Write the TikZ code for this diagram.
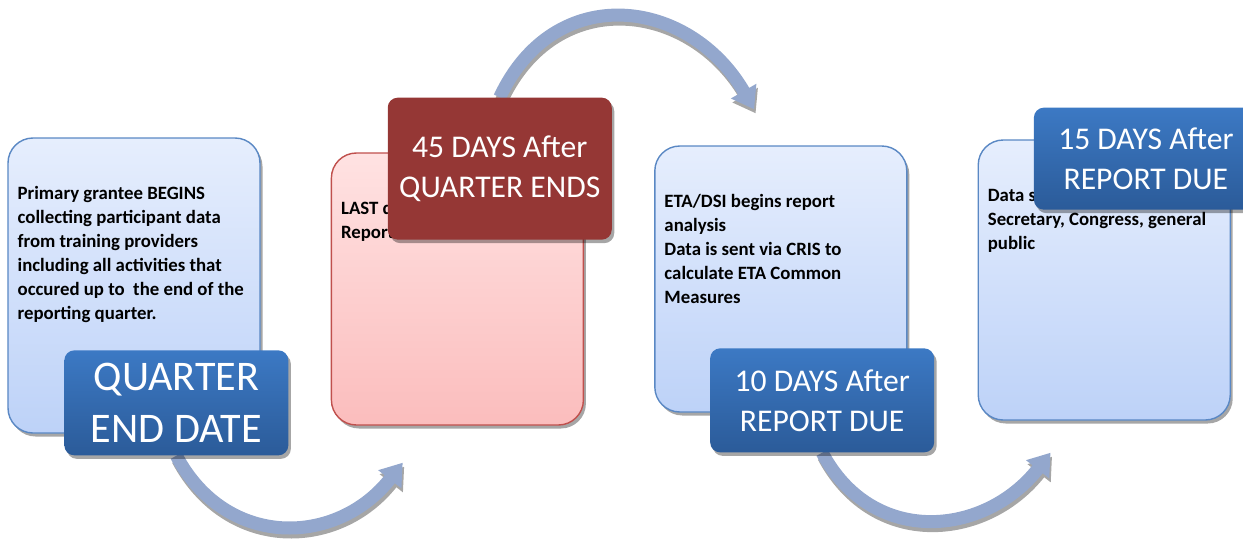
\documentclass[tikz,border=0pt]{standalone}
\usepackage{fontspec}
\setmainfont{Carlito}
\usepackage{tikz}
\usetikzlibrary{positioning, shadows, backgrounds, arrows.meta}

\definecolor{boxtop}{HTML}{E6EEFD}
\definecolor{boxbottom}{HTML}{BDD2F8}
\definecolor{boxline}{HTML}{5A88C4}
\definecolor{pinktop}{HTML}{FFE2E2}
\definecolor{pinkbottom}{HTML}{FBBDBD}
\definecolor{redline}{HTML}{C0504D}
\definecolor{tagtop}{HTML}{3C79C4}
\definecolor{tagbottom}{HTML}{2B5B99}
\definecolor{tagred}{HTML}{953735}
\definecolor{flowblue}{HTML}{93A7CD}
\definecolor{flowshadow}{HTML}{A6A6A6}

\begin{document}
\begin{tikzpicture}[
            node distance=1.4cm,
            stage/.style={rectangle, draw=boxline, line width=0.8pt, rounded corners=0.5cm, minimum width=5.04cm, top color=boxtop, bottom color=boxbottom, drop shadow={shadow xshift=0.05cm, shadow yshift=-0.07cm, fill=black, opacity=0.35}},
            redstage/.style={stage, draw=redline, top color=pinktop, bottom color=pinkbottom},
            note/.style={inner sep=0pt, align=left, anchor=north west, font=\bfseries\fontsize{10.7}{13.6}\selectfont},
            tag/.style={rectangle, rounded corners=0.2cm, minimum width=4.48cm, align=center, text=white, top color=tagtop, bottom color=tagbottom, font=\fontsize{18}{22.7}\selectfont, drop shadow={shadow xshift=0.05cm, shadow yshift=-0.07cm, fill=black, opacity=0.35}},
            redtag/.style={tag, top color=tagred, bottom color=tagred},
            flow/.style={line width=0.26cm, draw=flowblue, -{Triangle[width=0.56cm, length=0.42cm]}},
            flowshade/.style={flow, draw=flowshadow, transform canvas={shift={(0.03,-0.08)}}}
        ]

        \useasboundingbox (0,0) rectangle (24.86,10.84);

        % Stages
        \node[stage, minimum height=5.9cm] (box1) at (2.68,5.13) {};
        \node[redstage, minimum height=5.44cm, right=of box1, yshift=-0.07cm] (box2) {};
        \node[stage, minimum height=5.32cm, right=of box2, yshift=0.2cm] (box3) {};
        \node[stage, minimum height=5.6cm, right=of box3, yshift=-0.02cm] (box4) {};

        % Texts
        \node[note] (text1) at ([shift={(0.2,-0.98)}]box1.north west) {Primary grantee BEGINS\\collecting participant data\\from training providers\\including all activities that\\occured up to\ \ the end of the\\reporting quarter.};
        \node[note] (text2) at ([shift={(0.2,-0.98)}]box2.north west) {LAST day to submit Quarterly\\Report};
        \node[note] (text3) at ([shift={(0.2,-0.98)}]box3.north west) {ETA/DSI begins report\\analysis\\Data is sent via CRIS to\\calculate ETA Common\\Measures};
        \node[note] (text4) at ([shift={(0.2,-0.98)}]box4.north west) {Data shared with the\\Secretary, Congress, general\\public};

        % Deadlines
        \node[tag, minimum height=2.1cm, font=\fontsize{24}{29.5}\selectfont, anchor=south east] (qend) at ([shift={(0.56,-0.44)}]box1.south east) {QUARTER\\END DATE};
        \node[redtag, minimum height=2.84cm, anchor=north east] (due45) at ([shift={(0.56,1.1)}]box2.north east) {45 DAYS After\\QUARTER ENDS};
        \node[tag, minimum height=2.08cm, anchor=south east] (due10) at ([shift={(0.54,-0.8)}]box3.south east) {10 DAYS After\\REPORT DUE};
        \node[tag, minimum height=2.04cm, anchor=north west] (due15) at ([shift={(1.12,0.64)}]box4.north west) {15 DAYS After\\REPORT DUE};

        % Arrow ends
        \coordinate (in2) at ([shift={(1.44,-0.74)}]box2.south west);
        \coordinate (in3) at ([shift={(2.0,0.72)}]box3.north west);
        \coordinate (in4) at ([shift={(1.46,-0.64)}]box4.south west);

        % Arrows
        \begin{pgfonlayer}{background}
            \draw[flowshade] (qend.south) to[out=-62, in=-128, looseness=1.2] (in2);
            \draw[flowshade] (due45.north) to[out=65, in=120, looseness=1.3] (in3);
            \draw[flowshade] (due10.south) to[out=-62, in=-128, looseness=1.2] (in4);
            \draw[flow] (qend.south) to[out=-62, in=-128, looseness=1.2] (in2);
            \draw[flow] (due45.north) to[out=65, in=120, looseness=1.3] (in3);
            \draw[flow] (due10.south) to[out=-62, in=-128, looseness=1.2] (in4);
        \end{pgfonlayer}

    \end{tikzpicture}
\end{document}
